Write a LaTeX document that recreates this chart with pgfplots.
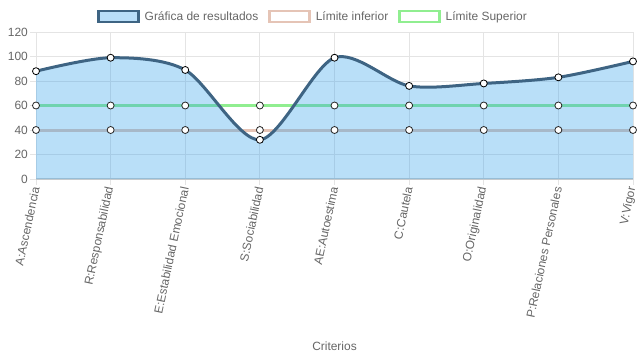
\documentclass[border=0pt]{standalone}
\usepackage{fontspec}
\setmainfont{Liberation Sans}
\usepackage{pgfplots}
\pgfplotsset{compat=1.18}
\definecolor{chartblue}{RGB}{54,162,235}
\definecolor{lineblue}{HTML}{3E6483}
\definecolor{limgreen}{HTML}{90EE90}
\definecolor{limpink}{HTML}{E5C4B6}
\definecolor{gridgray}{HTML}{E4E4E4}
\definecolor{txtgray}{HTML}{666666}
\begin{document}
\begin{tikzpicture}[x=1bp,y=1bp]
\path[use as bounding box] (0,0) rectangle (637,359);
\begin{axis}[
  at={(36bp,180bp)}, anchor=south west,
  scale only axis, width=597bp, height=147bp,
  xmin=0, xmax=8, ymin=0, ymax=120,
  clip=false,
  xtick={0,...,8},
  xticklabels={A:Ascendencia,R:Responsabilidad,E:Estabilidad Emocional,S:Sociabilidad,AE:Autoestima,C:Cautela,O:Originalidad,P:Relaciones Personales,V:Vigor},
  ytick={0,20,...,120},
  grid=major, grid style={draw=gridgray, line width=0.8bp},
  axis lines=left, axis line style={draw=gridgray, line width=0.8bp, -},
  tick align=outside, major tick length=6bp,
  tick style={draw=gridgray, line width=0.8bp},
  xticklabel style={rotate=78, anchor=east, font=\fontsize{12}{14}\selectfont, text=txtgray, inner sep=2bp},
  yticklabel style={font=\fontsize{12}{14}\selectfont, text=txtgray, inner sep=2bp},
  /pgf/number format/assume math mode=true,
  xlabel={Criterios},
  xlabel style={at={(axis description cs:0.5,0)}, anchor=center, yshift=-167bp, font=\fontsize{12}{14}\selectfont, text=txtgray},
  legend style={at={(axis description cs:0.464,1.105)}, anchor=center, draw=none, fill=none,
    font=\fontsize{12}{14}\selectfont, text=txtgray, inner sep=0pt,
    /tikz/every odd column/.append style={column sep=3bp},
    /tikz/every even column/.append style={column sep=8bp}},
  legend columns=3, legend cell align=left,
]
\addlegendimage{legend image code/.code={\draw[draw=lineblue, fill=chartblue!35, line width=2.5bp] (0bp,-5.5bp) rectangle (40bp,5.5bp);}}
\addlegendentry{Gráfica de resultados}
\addlegendimage{legend image code/.code={\draw[draw=limpink, fill=white, line width=2.5bp] (0bp,-5.5bp) rectangle (40bp,5.5bp);}}
\addlegendentry{Límite inferior}
\addlegendimage{legend image code/.code={\draw[draw=limgreen, fill=white, line width=2.5bp] (0bp,-5.5bp) rectangle (40bp,5.5bp);}}
\addlegendentry{Límite Superior}
% bottom zero line darker
\draw[draw=black!20, line width=1.5bp] (axis cs:0,0) -- (axis cs:8,0);
% limit lines
\addplot[forget plot, limpink, line width=3bp, mark=*, mark size=3.5bp, mark options={fill=white, draw=black!85, line width=0.8bp}]
  coordinates {(0,40) (1,40) (2,40) (3,40) (4,40) (5,40) (6,40) (7,40) (8,40)};
\addplot[forget plot, limgreen, line width=3bp, mark=*, mark size=3.5bp, mark options={fill=white, draw=black!85, line width=0.8bp}]
  coordinates {(0,60) (1,60) (2,60) (3,60) (4,60) (5,60) (6,60) (7,60) (8,60)};
% results fill
\addplot[forget plot, draw=none, fill=chartblue, fill opacity=0.35, smooth, tension=0.5]
  coordinates {(0,88) (1,99) (2,89) (3,32) (4,99) (5,76) (6,78) (7,83) (8,96)} \closedcycle;
% results line
\addplot[forget plot, lineblue, line width=3bp, smooth, tension=0.5, mark=*, mark size=3.5bp, mark options={fill=white, draw=black, line width=0.8bp}]
  coordinates {(0,88) (1,99) (2,89) (3,32) (4,99) (5,76) (6,78) (7,83) (8,96)};
\end{axis}
\end{tikzpicture}
\end{document}
